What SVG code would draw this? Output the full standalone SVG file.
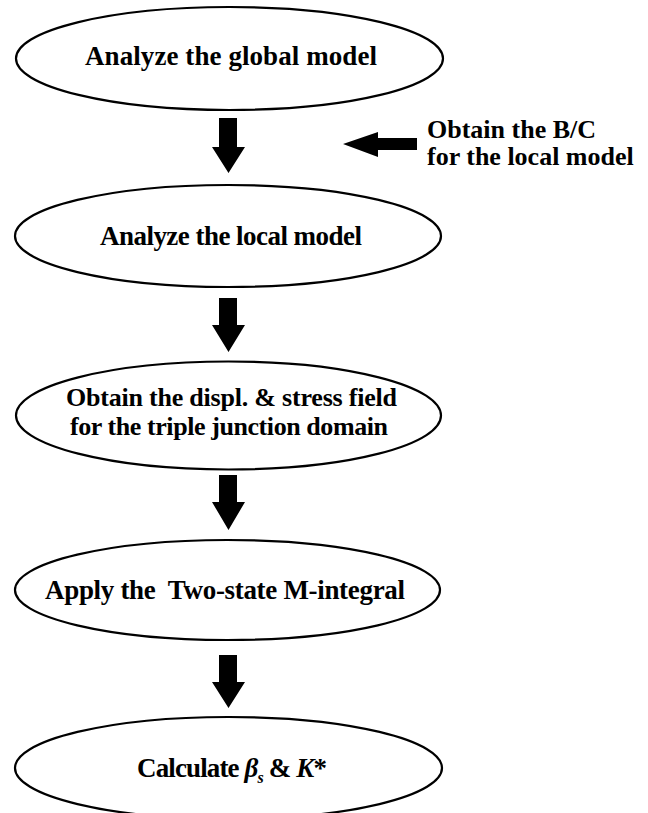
<svg xmlns="http://www.w3.org/2000/svg" width="648" height="813" viewBox="0 0 648 813">
<style>
.node ellipse{fill:#fff;stroke:#000;stroke-width:2.2}
text{font-family:"Liberation Serif","Times New Roman",serif;font-weight:bold;font-size:27px;fill:#000;white-space:pre}
.c{text-anchor:middle}
.s{font-size:26px}
.arrow{fill:#000;stroke:none}
</style>
<rect width="648" height="813" fill="#fff"/>
<g id="n1" class="node">
<ellipse cx="229.5" cy="58.5" rx="213.5" ry="51.5"/>
<text class="c" x="231" y="65" textLength="292">Analyze the global model</text>
</g>
<g id="n2" class="node">
<ellipse cx="228" cy="236" rx="213" ry="51"/>
<text class="c" x="231" y="245" textLength="262">Analyze the local model</text>
</g>
<g id="n3" class="node">
<ellipse cx="228.5" cy="415.5" rx="212.5" ry="54"/>
<text class="c s" x="231.5" y="406" textLength="331">Obtain the displ. &amp; stress field</text>
<text class="c s" x="229" y="435" textLength="318">for the triple junction domain</text>
</g>
<g id="n4" class="node">
<ellipse cx="227.5" cy="590" rx="212.5" ry="50"/>
<text class="c" x="225" y="599" textLength="360">Apply the  Two-state M-integral</text>
</g>
<g id="n5" class="node">
<ellipse cx="228.5" cy="768" rx="213.5" ry="51"/>
<text x="137" y="777" textLength="190">Calculate <tspan font-style="italic">β</tspan><tspan font-style="italic" font-size="16" dy="6">s</tspan><tspan dy="-6"> &amp; </tspan><tspan font-style="italic">K</tspan>*</text>
</g>
<g id="note">
<text class="s" x="427" y="138">Obtain the B/C</text>
<text class="s" x="427" y="165">for the local model</text>
</g>
<g id="connectors" class="arrow">
<polygon points="219,118 237,118 237,147 245,147 228.5,173 212,147 219,147"/>
<polygon points="219,298 237,298 237,325 245,325 228.5,352 212,325 219,325"/>
<polygon points="219,475 237,475 237,502 245,502 228.5,530 212,502 219,502"/>
<polygon points="219,655 237,655 237,682 245,682 228.5,708 212,682 219,682"/>
<polygon points="417,138 417,150 378,150 378,157 343,144 378,132 378,138"/>
</g>
</svg>
